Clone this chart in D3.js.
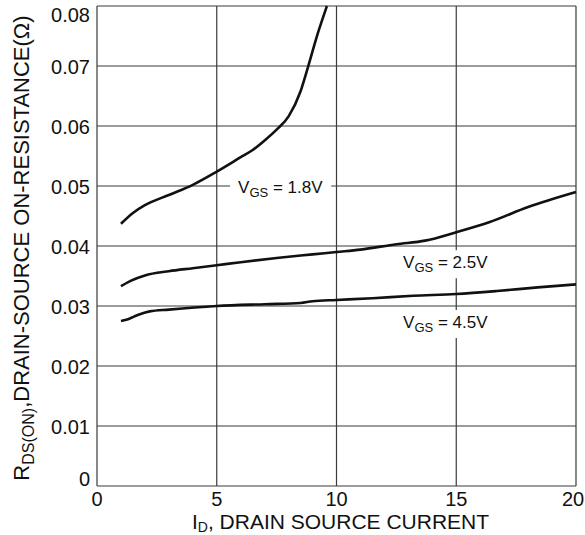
<!DOCTYPE html>
<html>
<head>
<meta charset="utf-8">
<script src="https://cdn.jsdelivr.net/npm/d3@7/dist/d3.min.js"></script>
<style>
  html, body { margin: 0; padding: 0; background: #fff; }
  svg { display: block; font-family: "Liberation Sans", Arial, sans-serif; }
</style>
</head>
<body>
<svg id="chart" width="585" height="535"></svg>
<script>
// Drain current (A) and on-resistance (Ω) for each gate voltage
const id18 = [1, 1.5, 2, 3, 4, 5, 6, 6.5, 7, 7.5, 8, 8.5, 8.8, 9.2, 9.6];
const r18  = [0.0437, 0.0455, 0.0468, 0.0485, 0.0502, 0.0524, 0.0548, 0.056, 0.0576, 0.0594, 0.0616, 0.0658, 0.0697, 0.0752, 0.080];

const id25 = [1, 1.4, 2, 3, 4, 5, 6, 7.5, 9, 10, 11, 12.5, 13.7, 15, 16.4, 18, 20];
const r25  = [0.0333, 0.0342, 0.0351, 0.0358, 0.0363, 0.0368, 0.0373, 0.038, 0.0386, 0.039, 0.0394, 0.0403, 0.0409, 0.0423, 0.044, 0.0465, 0.049];

const id45 = [1, 1.3, 1.7, 2.2, 3, 5, 7, 8.5, 9, 10, 11.5, 13.2, 15, 16.7, 18.4, 20];
const r45  = [0.0275, 0.0278, 0.0285, 0.0291, 0.0294, 0.030, 0.0303, 0.0305, 0.0308, 0.031, 0.0313, 0.0317, 0.032, 0.0325, 0.0331, 0.0336];

const xTicks = [0, 5, 10, 15, 20];
const yTicks = [0, 0.01, 0.02, 0.03, 0.04, 0.05, 0.06, 0.07, 0.08];

// Curve labels: gate voltage text and anchor point in data units
const labelText = ["1.8V", "2.5V", "4.5V"];
const labelAt   = [[5.89, 0.0488], [12.78, 0.0363], [12.78, 0.02633]];

const series = [
  { x: id18, y: r18 },
  { x: id25, y: r25 },
  { x: id45, y: r45 }
];

const margin = { left: 97, top: 6, right: 9, bottom: 49 };
const W = 585, H = 535;
const svg = d3.select("#chart");

const x = d3.scaleLinear().domain([0, 20]).range([margin.left, W - margin.right]);
const y = d3.scaleLinear().domain([0, 0.08]).range([H - margin.bottom, margin.top]);

const gridColor = "#3a3a3a";

// Grid
svg.append("g").selectAll("line.h").data(yTicks).join("line")
  .attr("x1", x(0)).attr("x2", x(20))
  .attr("y1", d => y(d)).attr("y2", d => y(d))
  .attr("stroke", gridColor).attr("stroke-width", 1.2);
svg.append("g").selectAll("line.v").data(xTicks).join("line")
  .attr("x1", d => x(d)).attr("x2", d => x(d))
  .attr("y1", y(0)).attr("y2", y(0.08))
  .attr("stroke", gridColor).attr("stroke-width", 1.2);

// Axis tick labels
svg.append("g").selectAll("text").data(xTicks).join("text")
  .attr("x", (d, i) => i === xTicks.length - 1 ? x(d) - 3 : x(d))
  .attr("y", y(0) + 20)
  .attr("text-anchor", "middle")
  .attr("font-size", 20).attr("fill", "#111")
  .text(d => d);

svg.append("g").selectAll("text").data(yTicks).join("text")
  .attr("x", x(0) - 7)
  .attr("y", (d, i) => {
    let py = y(d) + 8;
    if (i === 0) py = y(d);
    if (i === yTicks.length - 1) py = y(d) + 16;
    return py;
  })
  .attr("text-anchor", "end")
  .attr("font-size", 20).attr("fill", "#111")
  .text(d => d === 0 ? "0" : d3.format(".2f")(d));

// Curve labels with white backing that breaks the grid lines
const labelG = svg.append("g");
labelText.forEach((t, i) => {
  const [lx, ly] = labelAt[i];
  const g = labelG.append("g");
  const txt = g.append("text")
    .attr("x", x(lx)).attr("y", y(ly))
    .attr("font-size", 17).attr("fill", "#111");
  txt.append("tspan").text("V");
  txt.append("tspan").attr("font-size", 13).attr("dy", 4).text("GS");
  txt.append("tspan").attr("dy", -4).text(" = " + t);
  const bb = txt.node().getBBox();
  g.insert("rect", "text")
    .attr("x", bb.x - 8).attr("y", bb.y - 3)
    .attr("width", bb.width + 16).attr("height", bb.height + 6)
    .attr("fill", "#fff");
});

// Curves
const line = d3.line()
  .x(d => x(d[0])).y(d => y(d[1]))
  .curve(d3.curveMonotoneX);
svg.append("g").selectAll("path").data(series).join("path")
  .attr("d", s => line(s.x.map((v, i) => [v, s.y[i]])))
  .attr("fill", "none").attr("stroke", "#111")
  .attr("stroke-width", 2.6).attr("stroke-linejoin", "round");

// Axis titles
const xt = svg.append("text")
  .attr("x", (x(0) + x(20)) / 2 + 4).attr("y", H - 6)
  .attr("text-anchor", "middle")
  .attr("font-size", 21).attr("fill", "#111");
xt.append("tspan").text("I");
xt.append("tspan").attr("font-size", 14).attr("dy", 3).text("D");
xt.append("tspan").attr("dy", -3).text(", DRAIN SOURCE CURRENT");

const yt = svg.append("text")
  .attr("transform", `translate(29, ${(y(0) + y(0.08)) / 2 + 2}) rotate(-90)`)
  .attr("text-anchor", "middle")
  .attr("font-size", 22).attr("fill", "#111");
yt.append("tspan").text("R");
yt.append("tspan").attr("font-size", 16).attr("dy", 5).text("DS(ON)");
yt.append("tspan").attr("dy", -5).text(",DRAIN-SOURCE ON-RESISTANCE(Ω)");
</script>
</body>
</html>
